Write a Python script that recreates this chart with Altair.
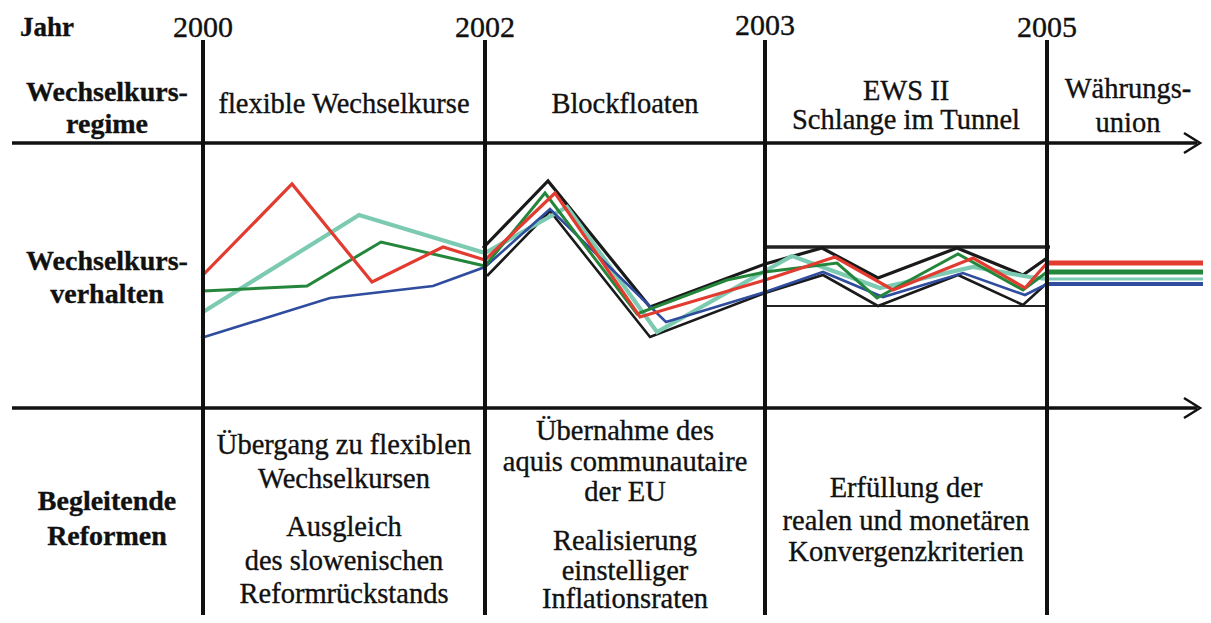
import altair as alt
import pandas as pd

# ---------------- data ----------------
years = ["2000", "2002", "2003", "2005"]
year_x = [203, 485, 765, 1047]
year_base = [37, 37, 35, 37]

# exchange-rate paths (x = time position, y = level from top of diagram)
red_x = [203, 292, 372, 443, 485, 555, 640, 765, 835, 893, 973, 1025, 1047]
red_y = [275, 184, 282, 247, 260, 193, 317, 280, 257, 290, 258, 288, 263]
green_x = [203, 307, 381, 485, 545, 637, 727, 765, 837, 877, 958, 1023, 1047]
green_y = [291, 286, 242, 266, 193, 314, 280, 272, 263, 298, 254, 290, 272]
teal_x = [203, 359, 485, 567, 657, 765, 792, 880, 973, 1030, 1047]
teal_y = [312, 215, 253, 207, 332, 271, 256, 288, 267, 277, 279]
blue_x = [201, 330, 433, 485, 550, 666, 765, 823, 883, 963, 1025, 1047]
blue_y = [338, 298, 286, 267, 209, 322, 292, 272, 297, 273, 295, 284]
black_up_x = [483, 548, 650, 765, 822, 878, 957, 1023, 1047]
black_up_y = [248, 181, 307, 264, 248, 278, 248, 275, 258]
black_lo_x = [487, 550, 650, 765, 823, 878, 958, 1023, 1047]
black_lo_y = [276, 211, 337, 293, 275, 306, 275, 305, 283]
tail_end = 1203
tail_levels = {"rot": 263, "grün": 272, "türkis": 279, "blau": 284}

colors = {"rot": "#e23b30", "grün": "#24863a", "türkis": "#7ccab2",
          "blau": "#2f4c9e", "schwarz_o": "#1a1a1a", "schwarz_u": "#1a1a1a"}
widths = {"rot": 3.2, "grün": 3, "türkis": 4.2, "blau": 2.6, "schwarz_o": 3.2, "schwarz_u": 2.6}
tail_widths = {"rot": 5, "grün": 5, "türkis": 3, "blau": 4}

# labels
left_labels = ["Wechselkurs-", "regime", "Wechselkurs-", "verhalten", "Begleitende", "Reformen"]
left_base = [101, 133, 270, 303, 510, 545]
regime_labels = ["flexible Wechselkurse", "Blockfloaten", "EWS II", "Schlange im Tunnel",
                 "Währungs-", "union"]
regime_x = [344, 625, 906, 906, 1128, 1128]
regime_base = [113, 113, 100, 129, 98, 132]
reform_labels = ["Übergang zu flexiblen", "Wechselkursen", "Ausgleich", "des slowenischen",
                 "Reformrückstands", "Übernahme des", "aquis communautaire", "der EU",
                 "Realisierung", "einstelliger", "Inflationsraten", "Erfüllung der",
                 "realen und monetären", "Konvergenzkriterien"]
reform_x = [344] * 5 + [625] * 6 + [906] * 3
reform_base = [454, 488, 536, 570, 603, 440, 471, 501, 550, 580, 608, 497, 530, 561]

# ---------------- frames ----------------
rows = []
def add(name, key, xs, ys, w):
    for i, (a, b) in enumerate(zip(xs, ys)):
        rows.append({"serie": key, "x": a, "y": b, "i": i, "c": colors[name], "w": w})

add("schwarz_o", "schwarz_o", black_up_x, black_up_y, widths["schwarz_o"])
add("schwarz_u", "schwarz_u", black_lo_x, black_lo_y, widths["schwarz_u"])
for name, xs, ys in [("türkis", teal_x, teal_y), ("blau", blue_x, blue_y),
                     ("grün", green_x, green_y), ("rot", red_x, red_y)]:
    add(name, name, xs, ys, widths[name])
for name, lvl in tail_levels.items():
    add(name, name + "_ende", [1047, tail_end], [lvl, lvl], tail_widths[name])
lines_df = pd.DataFrame(rows)

W, H = 1195, 607
xs = alt.Scale(domain=[8, 8 + W], nice=False, zero=False)
ys = alt.Scale(domain=[8, 8 + H], nice=False, zero=False, reverse=True)
X = lambda f: alt.X(f, type="quantitative", scale=xs, axis=None)
Y = lambda f: alt.Y(f, type="quantitative", scale=ys, axis=None)

vert_df = pd.DataFrame({"x": year_x, "y": [40] * 4, "y2": [623] * 4})
verticals = alt.Chart(vert_df).mark_rule(color="#111", strokeWidth=4).encode(
    x=X("x"), y=Y("y"), y2="y2")

hor_df = pd.DataFrame({"x": [12, 12], "x2": [1197, 1197], "y": [143, 408]})
horizontals = alt.Chart(hor_df).mark_rule(color="#111", strokeWidth=3.5).encode(
    x=X("x"), x2="x2", y=Y("y"))

arr_rows = []
for k, yy in enumerate([143, 408]):
    for i, (dx, dy) in enumerate([(-16, -10), (0, 0), (-16, 10)]):
        arr_rows.append({"a": k, "i": i, "x": 1200 + dx, "y": yy + dy})
arrows = alt.Chart(pd.DataFrame(arr_rows)).mark_line(color="#111", strokeWidth=2.5).encode(
    x=X("x"), y=Y("y"), detail="a:N", order="i:Q")

tun_df = pd.DataFrame({"x": [765, 765], "x2": [1050, 1047], "y": [247, 306], "w": [3.5, 2]})
tunnel = alt.Chart(tun_df).mark_rule(color="#222").encode(
    x=X("x"), x2="x2", y=Y("y"), strokeWidth=alt.StrokeWidth("w:Q", scale=None))

paths = alt.Chart(lines_df).mark_line(strokeJoin="miter").encode(
    x=X("x"), y=Y("y"), detail="serie:N", order="i:Q",
    color=alt.Color("c:N", scale=None),
    strokeWidth=alt.StrokeWidth("w:Q", scale=None))

font = "Liberation Serif"
REG = 28.5
BOLD = 28
txt_style = dict(font=font, baseline="alphabetic", color="#111", stroke="#111", strokeWidth=0.35)
year_txt = alt.Chart(pd.DataFrame({"t": years, "x": year_x, "y": year_base})).mark_text(
    fontSize=30, align="center", **txt_style).encode(
    x=X("x"), y=Y("y"), text="t:N")
jahr_txt = alt.Chart(pd.DataFrame({"t": ["Jahr"], "x": [20], "y": [36]})).mark_text(
    fontSize=27, fontWeight="bold", align="left", **txt_style).encode(
    x=X("x"), y=Y("y"), text="t:N")
left_txt = alt.Chart(pd.DataFrame({"t": left_labels, "x": [107] * 6, "y": left_base})).mark_text(
    fontSize=BOLD, fontWeight="bold", align="center", **txt_style).encode(
    x=X("x"), y=Y("y"), text="t:N")
regime_txt = alt.Chart(pd.DataFrame({"t": regime_labels, "x": regime_x, "y": regime_base})).mark_text(
    fontSize=REG, align="center", **txt_style).encode(
    x=X("x"), y=Y("y"), text="t:N")
reform_txt = alt.Chart(pd.DataFrame({"t": reform_labels, "x": reform_x, "y": reform_base})).mark_text(
    fontSize=REG, align="center", **txt_style).encode(
    x=X("x"), y=Y("y"), text="t:N")

chart = alt.layer(
    tunnel, paths, verticals, horizontals, arrows,
    year_txt, jahr_txt, left_txt, regime_txt, reform_txt
).properties(
    width=W, height=H,
    autosize=alt.AutoSizeParams(type="none"),
    padding={"left": 0, "top": 0, "right": 0, "bottom": 0},
    background="white",
).configure_view(stroke=None, strokeWidth=0)

chart.save("out.html", embed_options={"renderer": "svg", "actions": False})
